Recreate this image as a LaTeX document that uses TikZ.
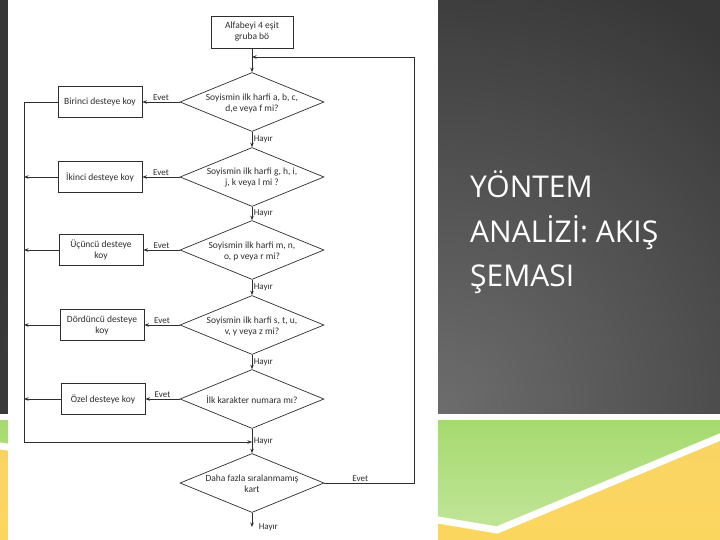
\documentclass[tikz,border=0pt]{standalone}
\usepackage{fontspec}
\setmainfont{Carlito}
\newfontfamily\titlefont{Open Sans}
\usetikzlibrary{shapes.geometric,arrows.meta,patterns.meta}
\definecolor{bgdark}{HTML}{373737}
\definecolor{bglight}{HTML}{6C6C6C}
\definecolor{gtop}{HTML}{A6DA6E}
\definecolor{gmid}{HTML}{8CCF48}
\definecolor{gbot}{HTML}{C2E59A}
\definecolor{ytop}{HTML}{FAD463}
\definecolor{ymid}{HTML}{F6C419}
\definecolor{ybot}{HTML}{FBD65F}
\definecolor{ink}{HTML}{2E2E2E}
\tikzset{
  box/.style={draw=ink, line width=0.8pt, minimum width=84pt, minimum height=31pt, inner sep=1pt, align=center, font=\fontsize{9.5}{11}\selectfont, text=ink},
  dia/.style={draw=ink, line width=0.7pt, shape=diamond, minimum width=144pt, minimum height=59pt, inner sep=0pt},
  dtext/.style={align=center, font=\fontsize{9.5}{11}\selectfont, text=ink, inner sep=0pt},
  conn/.style={draw=ink, line width=0.7pt},
  arr/.style={conn, -{Stealth[length=4.5pt,width=3.5pt]}},
  lab/.style={font=\fontsize{9}{10}\selectfont, text=ink, inner sep=1.5pt},
  ttl/.style={anchor=base west, text=white, inner sep=0pt, font=\titlefont\fontsize{30}{36}\selectfont},
}
\begin{document}
\begin{tikzpicture}[x=1pt,y=-1pt]
\useasboundingbox (0,0) rectangle (720,540);
% dark background
\begin{scope}
  \clip (0,0) rectangle (720,413);
  \fill[bgdark] (0,0) rectangle (720,413);
  \shade[inner color=bglight, outer color=bgdark] (445,405) circle (460);
  \fill[pattern={Dots[distance=5pt,radius=0.45pt]}, pattern color=white, opacity=0.08] (0,0) rectangle (720,413);
\end{scope}
% green / yellow band
\shade[top color=gtop, middle color=gmid, bottom color=gbot] (0,420) -- (720,420) -- (720,440) -- (497,532) -- (0,448) -- cycle;
\shade[top color=ytop, middle color=ymid, bottom color=ybot] (0,444) -- (497,528) -- (720,434) -- (720,540) -- (0,540) -- cycle;
\draw[white, line width=7pt] (-5,445) -- (497,530) -- (725,435);
% white panel
\fill[white] (8,0) rectangle (438,540);
% title
\node[ttl] (title1) at (470,197) {YÖNTEM};
\node[ttl] (title2) at (470,242) {ANALİZİ: AKIŞ};
\node[ttl] (title3) at (470,286) {ŞEMASI};
% flowchart
\node[box, minimum width=82pt, minimum height=32pt] (top) at (252,32) {Alfabeyi 4 eşit\\gruba bö};
\node[dia] (d1) at (252,102) {};
\node[dia] (d2) at (252,177) {};
\node[dia] (d3) at (252,250) {};
\node[dia] (d4) at (252,325) {};
\node[dia] (d5) at (252,399) {};
\node[dia] (d6) at (252,483) {};
\node[dtext] (t1) at (252,103) {Soyismin ilk harfi a, b, c,\\d,e veya f mi?};
\node[dtext] (t2) at (252,178) {Soyismin ilk harfi g, h, i,\\j, k veya l mi ?};
\node[dtext] (t3) at (252,251) {Soyismin ilk harfi m, n,\\o, p veya r mi?};
\node[dtext] (t4) at (252,326) {Soyismin ilk harfi s, t, u,\\v, y veya z mi?};
\node[dtext] (t5) at (252,400) {İlk karakter numara mı?};
\node[dtext] (t6) at (252,484) {Daha fazla sıralanmamış\\kart};
\node[box] (b1) at (100,102) {Birinci desteye koy};
\node[box] (b2) at (100,177) {İkinci desteye koy};
\node[box] (b3) at (101,250) {Üçüncü desteye\\koy};
\node[box] (b4) at (102,325) {Dördüncü desteye\\koy};
\node[box] (b5) at (103,399) {Özel desteye koy};
\coordinate (lc) at (24,102);
\coordinate (join) at (252,442);
\coordinate (rc) at (414,57);
\coordinate (entry) at (252,57);
\coordinate (end) at (252,527);
% main column
\draw[arr] (top) -- (d1);
\draw[arr] (d1) -- node[lab, right] (h1) {Hayır} (d2);
\draw[arr] (d2) -- node[lab, right] (h2) {Hayır} (d3);
\draw[arr] (d3) -- node[lab, right] (h3) {Hayır} (d4);
\draw[arr] (d4) -- node[lab, right] (h4) {Hayır} (d5);
\draw[arr] (d5) -- node[lab, right] (h5) {Hayır} (d6);
\draw[arr] (d6) -- (end) node[lab, right, xshift=5pt] (h6) {Hayır};
% yes branches
\draw[arr] (d1) -- node[lab, above] (e1) {Evet} (b1);
\draw[arr] (d2) -- node[lab, above] (e2) {Evet} (b2);
\draw[arr] (d3) -- node[lab, above] (e3) {Evet} (b3);
\draw[arr] (d4) -- node[lab, above] (e4) {Evet} (b4);
\draw[arr] (d5) -- node[lab, above] (e5) {Evet} (b5);
% collector on the left
\draw[arr] (b1.west) -- (lc) |- (join);
\draw[arr] (b2.west) -- (b2.west -| lc);
\draw[arr] (b3.west) -- (b3.west -| lc);
\draw[arr] (b4.west) -- (b4.west -| lc);
\draw[arr] (b5.west) -- (b5.west -| lc);
% loop back
\draw[arr] (d6.east) -- node[lab, above, pos=0.4] (e6) {Evet} (d6.east -| rc) -- (rc) -- (entry);
\end{tikzpicture}
\end{document}
